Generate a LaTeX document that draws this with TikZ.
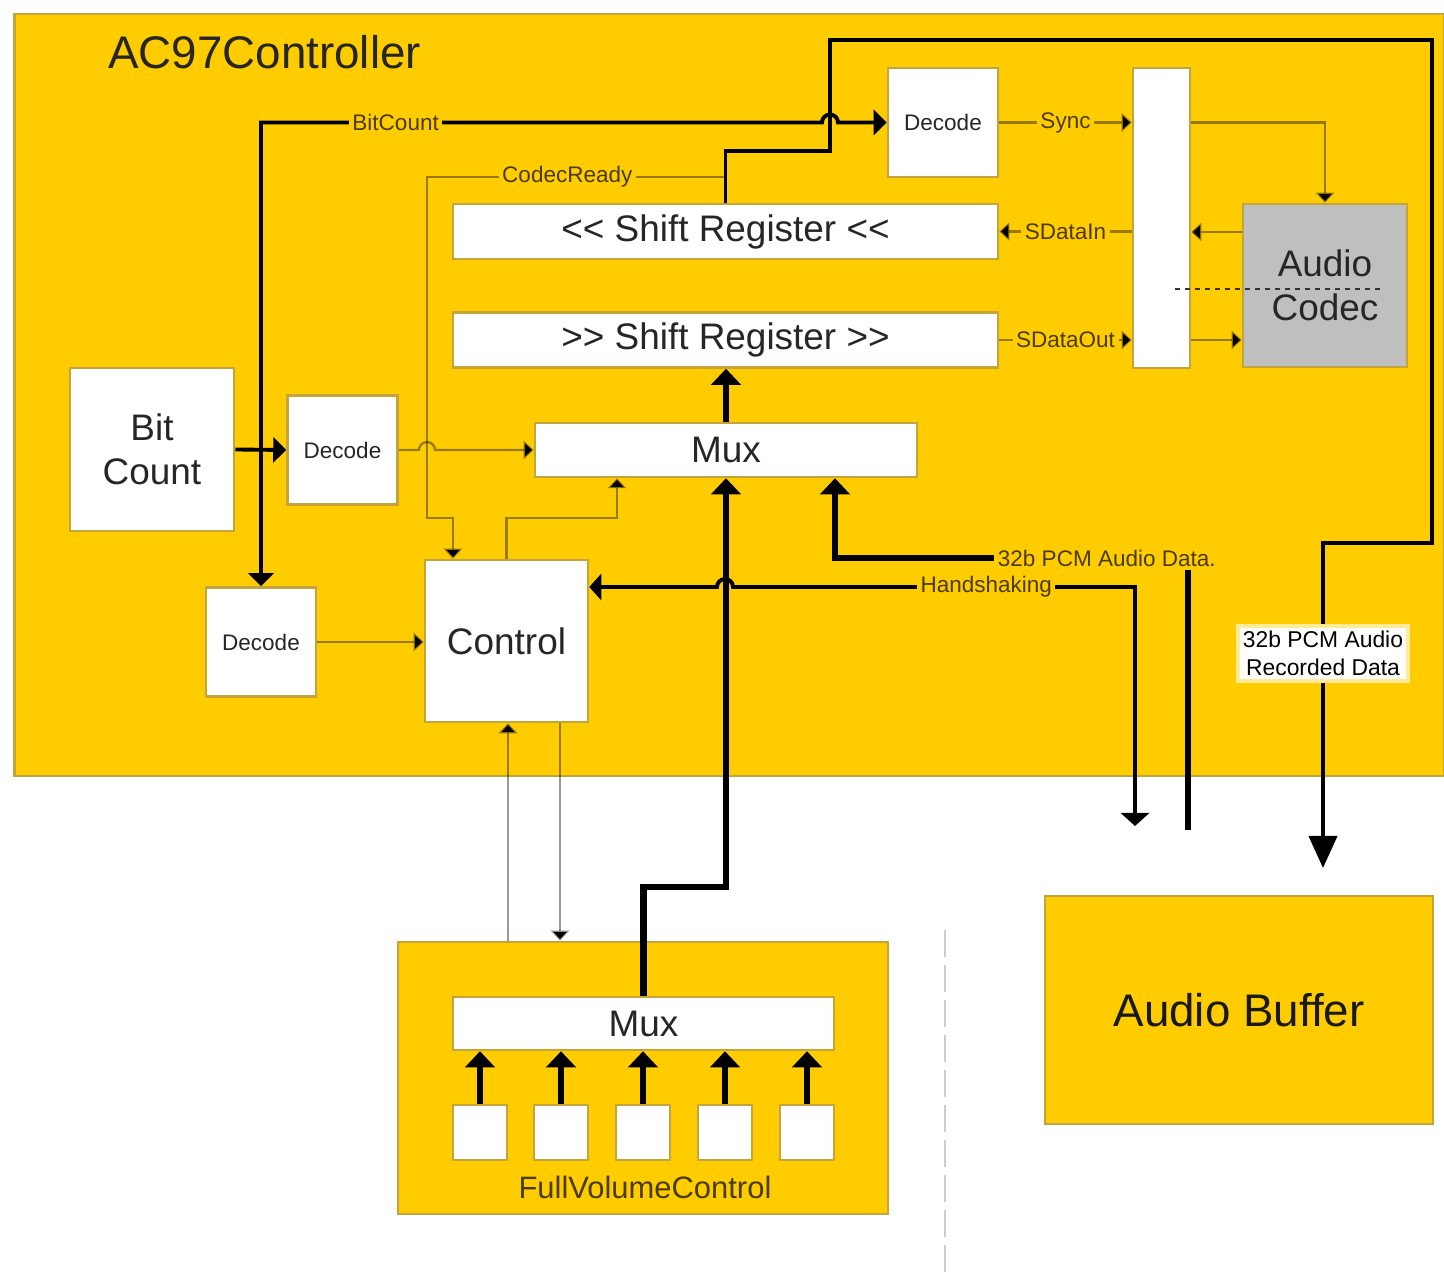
\documentclass[tikz,border=0pt]{standalone}
\usepackage{fontspec}
\setmainfont{Liberation Sans}
\usepackage{tikz}
\usetikzlibrary{arrows.meta, positioning, calc}
\definecolor{acyellow}{HTML}{FFCC00}
\definecolor{acedge}{HTML}{C4A53C}
\definecolor{acink}{HTML}{4A3B00}
\definecolor{acgray}{HTML}{BFBFBF}
\newcommand{\actitle}{\fontsize{13}{15}\selectfont}
\newcommand{\acbig}{\fontsize{10.5}{12.4}\selectfont}
\newcommand{\acsmall}{\fontsize{6.4}{8}\selectfont}
\tikzset{
  blk/.style={draw=acedge, fill=white, line width=0.7pt, inner sep=0pt,
              align=center, text=black!85, font=\acbig},
  dec/.style={blk, minimum width=1.1cm, minimum height=1.09cm, font=\acsmall},
  wide/.style={blk, minimum width=5.45cm, minimum height=0.55cm},
  zone/.style={draw=acedge, fill=acyellow, line width=0.7pt, inner sep=0pt},
  wire/.style={draw=black, draw opacity=0.4, line width=0.65pt,
               -{Triangle[length=1mm,width=1.8mm]}},
  bus/.style={draw=black, line width=1.1pt, -{Triangle[length=1.3mm,width=2.5mm]}},
  wbus/.style={draw=black, line width=1.9pt, -{Triangle[length=1.6mm,width=2.9mm]}},
  lbl/.style={fill=acyellow, inner sep=1pt, text=acink, font=\acsmall},
  reclbl/.style={fill=white, draw=acyellow!40, inner sep=1.5pt, align=center,
                 font=\fontsize{6.5}{8}\selectfont}
}

\begin{document}
\begin{tikzpicture}[x=0.01cm, y=-0.01cm]
    \useasboundingbox (0,0) rectangle (1444,1273);

    % controller area
    \node[zone, minimum width=14.29cm, minimum height=7.62cm] (ac97) at (729.5,395) {};
    \node[anchor=west, font=\actitle, text=black!85] (title) at (96,52) {AC97Controller};

    % outside blocks
    \draw[black!20, line width=0.8pt, dash pattern=on 2.7mm off 0.8mm] (945,930) -- (945,1273);
    \node[zone, minimum width=3.88cm, minimum height=2.28cm, font=\actitle, text=black!90]
      (abuf) at (1239,1010) {Audio Buffer};
    \node[zone, minimum width=4.9cm, minimum height=2.72cm] (fvc) at (643,1078) {};
    \node[font=\fontsize{8.8}{10}\selectfont, text=acink] (fvclbl) at (645,1187) {FullVolumeControl};
    \node[blk, minimum width=3.81cm, minimum height=0.53cm] (fmux) at (643.5,1023.5) {Mux};
    \foreach \i/\x in {1/480,2/561,3/643,4/725,5/807} {
      \node[blk, minimum width=0.54cm, minimum height=0.55cm] (vol\i) at (\x,1132.5) {};
      \draw[wbus] (vol\i.north) -- (vol\i.north |- fmux.south);
    }

    % controller blocks
    \node[blk, minimum width=1.64cm, minimum height=1.63cm] (bitcnt) at (152,449.5) {Bit\\Count};
    \node[dec] (dec1) at (342.5,450) {Decode};
    \node[dec] (dec2) at (261,642) {Decode};
    \node[blk, minimum width=1.63cm, minimum height=1.62cm] (ctrl) at (506.5,641) {Control};
    \node[blk, minimum width=3.82cm, minimum height=0.54cm] (mux) at (726,450) {Mux};
    \node[wide] (srout) at (725.5,340) {>\kern0pt> Shift Register >\kern0pt>};
    \node[wide] (srin) at (725.5,231.5) {<\kern0pt< Shift Register <\kern0pt<};
    \node[dec] (decsync) at (943,122.5) {Decode};
    \node[blk, minimum width=0.57cm, minimum height=3cm] (iobar) at (1161.5,218) {};
    \node[blk, fill=acgray, minimum width=1.64cm, minimum height=1.63cm] (codec) at (1325,285.5) {Audio\\Codec};
    \draw[black!80, line width=0.5pt, dash pattern=on 0.5mm off 0.5mm] (1175,289) -- (1385,289);

    % bit counter
    \draw[bus] (bitcnt.east) -- (dec1.west);
    \coordinate (bcj) at (261,450);
    \draw[bus] (bcj) -- (261,122.5) -- node[lbl, pos=0.24]{BitCount} (822,122.5)
      arc[start angle=180, end angle=0, radius=0.08cm] -- (decsync.west);
    \draw[bus] (bcj) -- (dec2.north);
    \draw[wire] (dec1.east) -- (419,450) arc[start angle=180, end angle=0, radius=0.08cm] -- (mux.west);

    % control
    \coordinate (crtap) at (725.5,177);
    \draw[wire] (crtap) -- node[lbl, pos=0.53]{CodecReady} (427,177) -- (427,518) -- (453,518)
      -- (ctrl.north -| 453,0);
    \draw[wire] (ctrl.north) -- (506.5,518) -- (617,518) -- (mux.south -| 617,0);
    \draw[wire] (dec2.east) -- (dec2.east -| ctrl.west);
    \draw[wire] (fvc.north -| 508,0) -- (ctrl.south -| 508,0);
    \draw[wire] (ctrl.south -| 560,0) -- (fvc.north -| 560,0);

    % data paths
    \draw[wbus] (mux.north) -- (mux.north |- srout.south);
    \draw[wbus] (fmux.north) |- (726,887) -- (mux.south);
    \coordinate (recend) at (1323,868);
    \draw[bus, -{Triangle[length=3.2mm,width=2.8mm]}] (srin.north) -- (725.5,151) -- (830,151)
      -- (830,40) -- (1432,40) -- (1432,543) -- (1323,543)
      -- node[reclbl, pos=0.34]{32b PCM Audio\\Recorded Data} (recend);
    \coordinate (hsend) at (1135,826);
    \draw[bus, {Triangle[length=1.2mm,width=2.6mm]}-{Triangle[length=1.3mm,width=2.8mm]}]
      (ctrl.east |- 0,587) -- (717,587) arc[start angle=180, end angle=0, radius=0.08cm]
      -- node[lbl, pos=0.63]{Handshaking} (1135,587) -- (hsend);
    \coordinate (pcmsrc) at (1188,830);
    \draw[wbus] (pcmsrc) -- (1188,558) -- node[lbl, pos=0.23]{32b PCM Audio Data.} (835,558)
      -- (mux.south -| 835,0);

    % codec link
    \draw[wire] (decsync.east) -- node[lbl]{Sync} (decsync.east -| iobar.west);
    \draw[wire] (iobar.east |- decsync.east) -| (codec.north);
    \draw[wire] (codec.west |- 0,232) -- (iobar.east |- 0,232);
    \draw[wire] (iobar.west |- srin.east) -- node[lbl]{SDataIn} (srin.east);
    \draw[wire] (srout.east) -- node[lbl]{SDataOut} (srout.east -| iobar.west);
    \draw[wire] (iobar.east |- srout.east) -- (codec.west |- srout.east);
\end{tikzpicture}
\end{document}
